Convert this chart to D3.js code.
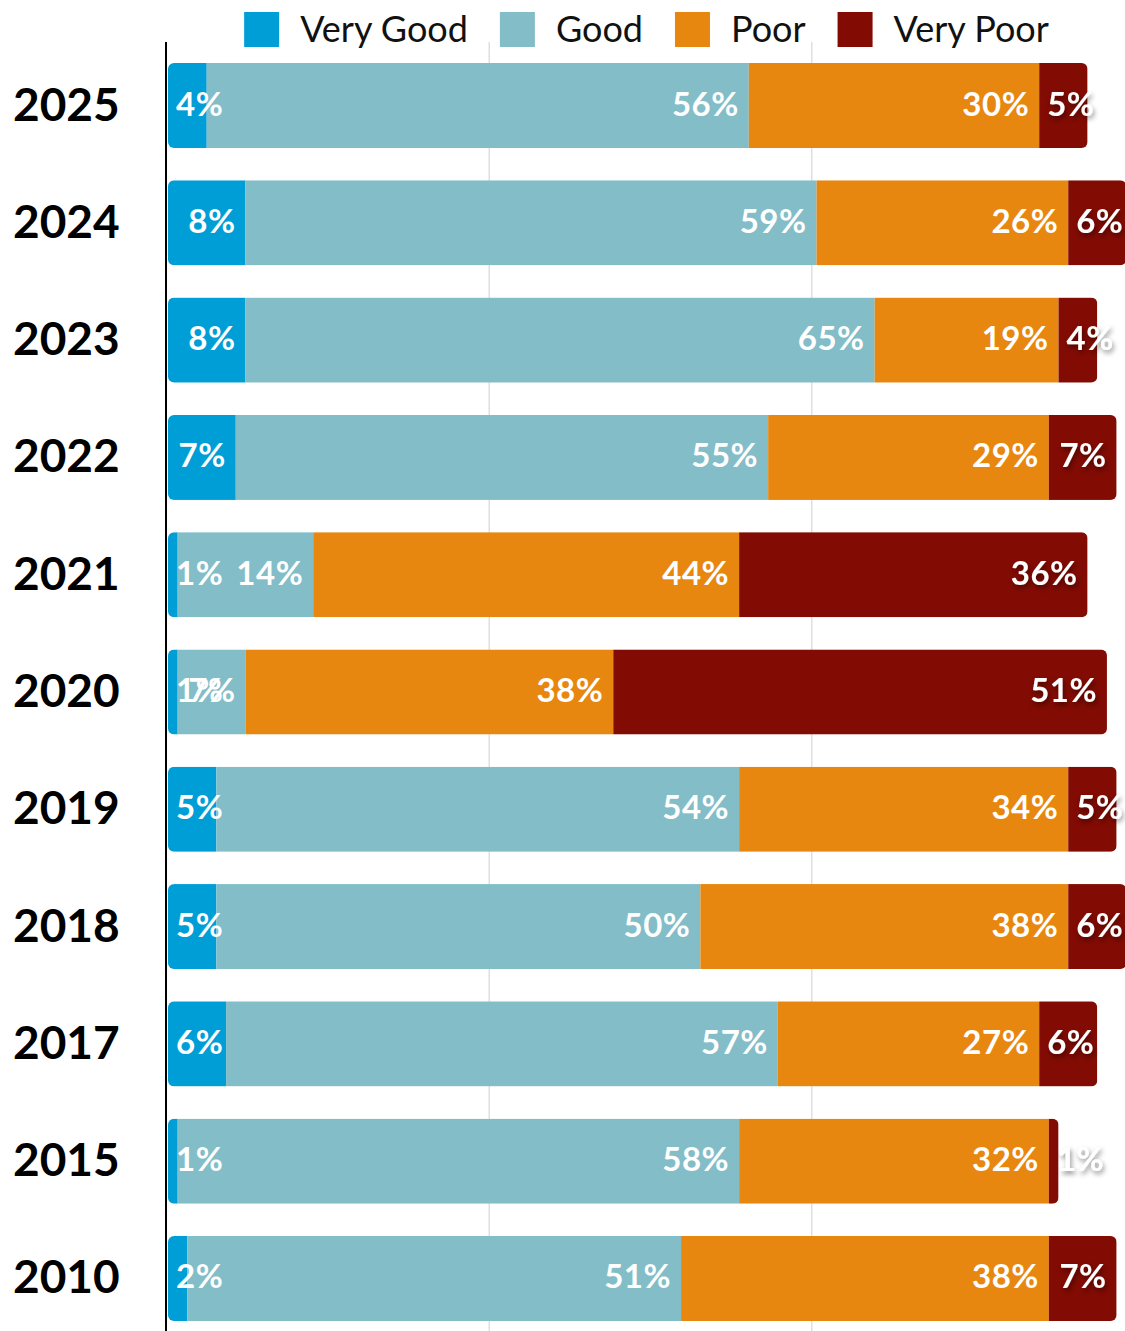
<!DOCTYPE html>
<html>
<head>
<meta charset="utf-8">
<script src="https://cdn.jsdelivr.net/npm/d3@7"></script>
<style>
  body { margin: 0; background: #fff; }
  svg { display: block; font-family: Lato, "Open Sans", sans-serif; }
</style>
</head>
<body>
<svg id="chart" width="1125" height="1331"></svg>
<script>
// data
var years = ["2025", "2024", "2023", "2022", "2021", "2020", "2019", "2018", "2017", "2015", "2010"];
var categories = ["Very Good", "Good", "Poor", "Very Poor"];
var veryGood = [4, 8, 8, 7, 1, 1, 5, 5, 6, 1, 2];
var good     = [56, 59, 65, 55, 14, 7, 54, 50, 57, 58, 51];
var poor     = [30, 26, 19, 29, 44, 38, 34, 38, 27, 32, 38];
var veryPoor = [5, 6, 4, 7, 36, 51, 5, 6, 6, 1, 7];
var gridTicks = [100 / 3, 200 / 3];
var colors = ["#009ed7", "#83bdc8", "#e8870f", "#820b03"];

var width = 1125, height = 1331;
var svg = d3.select("#chart");

var x = d3.scaleLinear().domain([0, 100]).range([168, 1136]);
var y = d3.scaleBand().domain(years).range([63, 1321]).paddingInner(0.275).paddingOuter(0);

// build rows for d3.stack
var rows = years.map(function(yr, i){
  return {year: yr, "Very Good": veryGood[i], "Good": good[i], "Poor": poor[i], "Very Poor": veryPoor[i]};
});
var series = d3.stack().keys(categories)(rows);

var defs = svg.append("defs");
var filt = defs.append("filter").attr("id", "shadow")
  .attr("x", "-30%").attr("y", "-30%").attr("width", "160%").attr("height", "180%");
filt.append("feDropShadow").attr("dx", 1.5).attr("dy", 3).attr("stdDeviation", 2.5)
  .attr("flood-color", "#000").attr("flood-opacity", 0.45);

// gridlines
svg.append("g").selectAll("line")
  .data(gridTicks).enter().append("line")
  .attr("x1", function(d){ return x(d) - 1.5; }).attr("x2", function(d){ return x(d) - 1.5; })
  .attr("y1", 42).attr("y2", height)
  .attr("stroke", "#cfcfcf").attr("stroke-width", 1);

// clip paths for rounded bars
rows.forEach(function(r, i){
  var total = veryGood[i] + good[i] + poor[i] + veryPoor[i];
  defs.append("clipPath").attr("id", "clip" + r.year)
    .append("rect")
    .attr("x", x(0)).attr("y", y(r.year))
    .attr("width", x(total) - x(0)).attr("height", y.bandwidth())
    .attr("rx", 6).attr("ry", 6);
});

var barG = svg.append("g");
series.forEach(function(s, k){
  barG.selectAll(".seg" + k)
    .data(s).enter().append("rect")
    .attr("class", "seg" + k)
    .attr("clip-path", function(d){ return "url(#clip" + d.data.year + ")"; })
    .attr("x", function(d){ return x(d[0]); })
    .attr("y", function(d){ return y(d.data.year); })
    .attr("width", function(d){ return x(d[1]) - x(d[0]); })
    .attr("height", y.bandwidth())
    .attr("fill", colors[k]);
});

// value labels
var labelG = svg.append("g");
series.forEach(function(s, k){
  labelG.selectAll(".lab" + k)
    .data(s).enter().append("text")
    .attr("class", "lab" + k)
    .attr("x", function(d){
      var v = d[1] - d[0];
      return v < 7 ? x(d[0]) + 8 : x(d[1]) - 10;
    })
    .attr("y", function(d){ return y(d.data.year) + y.bandwidth() / 2 + 10; })
    .attr("text-anchor", function(d){ return (d[1] - d[0]) < 7 ? "start" : "end"; })
    .attr("fill", "#fff")
    .attr("font-size", 33)
    .attr("font-weight", 700)
    .attr("letter-spacing", 0.5)
    .attr("filter", k === 3 ? "url(#shadow)" : null)
    .text(function(d){ return (d[1] - d[0]) + "%"; });
});

// year labels
svg.append("g").selectAll("text")
  .data(years).enter().append("text")
  .attr("x", 13)
  .attr("y", function(d){ return y(d) + y.bandwidth() / 2 + 15; })
  .attr("font-size", 46)
  .attr("font-weight", 700)
  .attr("fill", "#000")
  .text(function(d){ return d; });

// axis line
svg.append("line")
  .attr("x1", 166).attr("x2", 166)
  .attr("y1", 42).attr("y2", height)
  .attr("stroke", "#000").attr("stroke-width", 2);

// legend, centred on plot area
var legend = svg.append("g");
var items = legend.selectAll("g").data(categories).enter().append("g");
items.append("rect").attr("width", 35).attr("height", 35).attr("y", 12)
  .attr("fill", function(d, i){ return colors[i]; });
items.append("text").attr("x", 56).attr("y", 42)
  .attr("font-size", 36).attr("fill", "#111")
  .text(function(d){ return d; });
var pos = 0, offsets = [];
items.each(function(d){
  offsets.push(pos);
  pos += 56 + this.querySelector("text").getComputedTextLength() + 32;
});
var legendW = pos - 32;
var start = (168 + 1125) / 2 - legendW / 2;
items.attr("transform", function(d, i){ return "translate(" + (start + offsets[i]) + ",0)"; });
</script>
</body>
</html>
